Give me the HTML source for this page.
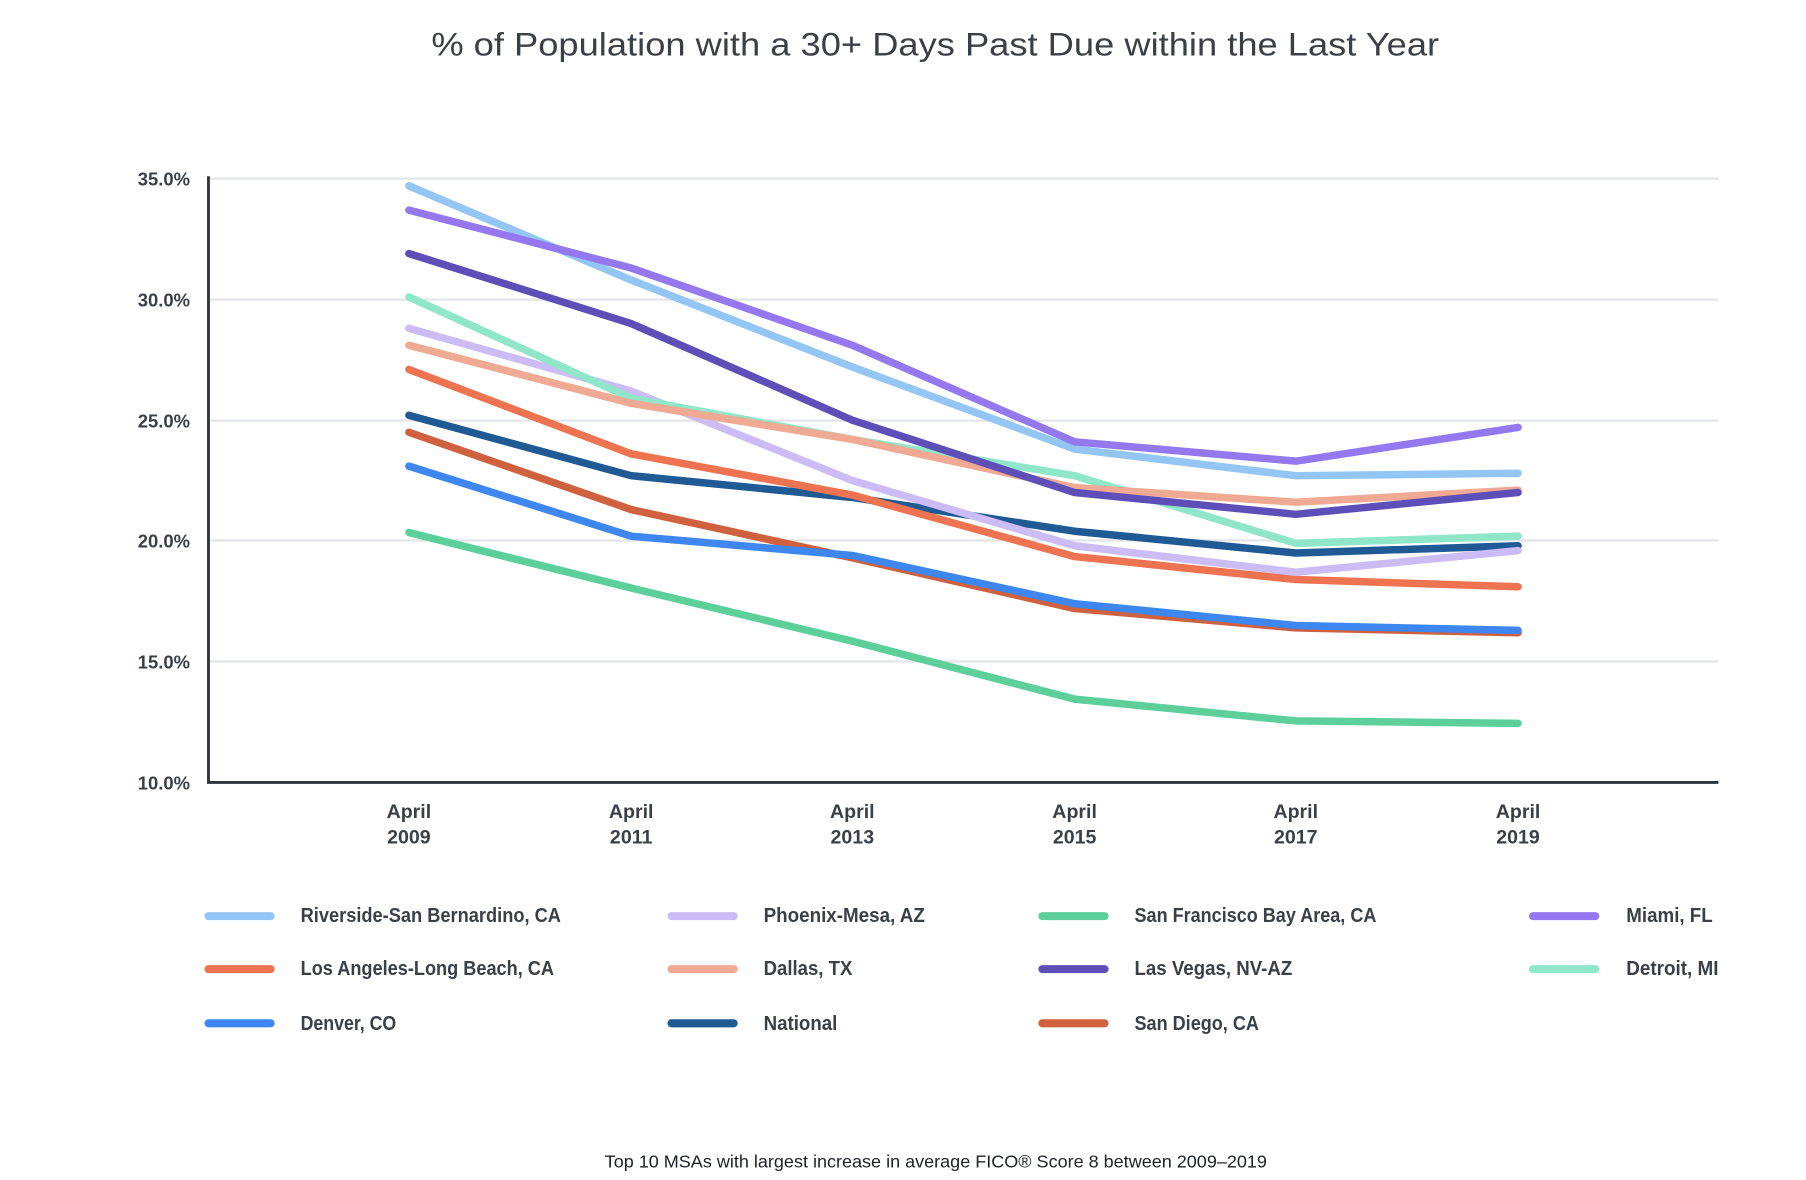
<!DOCTYPE html>
<html><head><meta charset="utf-8"><style>
html,body{margin:0;padding:0;background:#fff;}
svg{display:block;}
text{font-family:"Liberation Sans Narrow","Liberation Sans",sans-serif;fill:#3a3f48;}
</style></head><body>
<svg width="1806" height="1180" viewBox="0 0 1568 1024" preserveAspectRatio="none">
<rect width="1568" height="1024" fill="#fff"/>
<text x="812" y="48" text-anchor="middle" font-size="28" textLength="875" lengthAdjust="spacingAndGlyphs" style="font-family:'Liberation Sans',sans-serif;fill:#3b3f46">% of Population with a 30+ Days Past Due within the Last Year</text>
<g stroke="#e3e5e8" stroke-width="2">
<line x1="181" x2="1492" y1="155" y2="155"/><line x1="181" x2="1492" y1="260" y2="260"/><line x1="181" x2="1492" y1="365" y2="365"/><line x1="181" x2="1492" y1="469" y2="469"/><line x1="181" x2="1492" y1="574" y2="574"/>
</g>
<line x1="181" x2="181" y1="153" y2="680" stroke="#2f3540" stroke-width="2.5"/>
<line x1="180" x2="1492" y1="679" y2="679" stroke="#2f3540" stroke-width="2.5"/>
<g font-size="16" text-anchor="end" font-weight="bold" style="font-family:'Liberation Sans',sans-serif">
<text x="165" y="161">35.0%</text><text x="165" y="266">30.0%</text><text x="165" y="371">25.0%</text><text x="165" y="475">20.0%</text><text x="165" y="580">15.0%</text><text x="165" y="685">10.0%</text>
</g>
<g font-size="17" text-anchor="middle" font-weight="bold">
<text x="355" y="710">April</text><text x="355" y="732">2009</text>
<text x="548" y="710">April</text><text x="548" y="732">2011</text>
<text x="740" y="710">April</text><text x="740" y="732">2013</text>
<text x="933" y="710">April</text><text x="933" y="732">2015</text>
<text x="1125" y="710">April</text><text x="1125" y="732">2017</text>
<text x="1318" y="710">April</text><text x="1318" y="732">2019</text>
</g>
<g fill="none" stroke-width="6.5" stroke-linecap="round" stroke-linejoin="round">
<polyline stroke="#5ccf9a" points="355,462.1 548,510.3 740,556.4 933,606.7 1125,625.6 1318,627.7"/>
<polyline stroke="#d0613f" points="355,375.1 548,442.2 740,484.1 933,528.1 1125,544.9 1318,549.1"/>
<polyline stroke="#3e86f0" points="355,404.5 548,465.3 740,482.0 933,523.9 1125,542.8 1318,547.0"/>
<polyline stroke="#1f5a94" points="355,360.4 548,412.8 740,431.7 933,461.0 1125,479.9 1318,473.6"/>
<polyline stroke="#ee7350" points="355,320.6 548,393.9 740,429.6 933,483.0 1125,502.9 1318,509.2"/>
<polyline stroke="#cbbcf5" points="355,284.9 548,339.4 740,417.0 933,473.6 1125,496.6 1318,477.8"/>
<polyline stroke="#8fe6c8" points="355,257.7 548,345.7 740,381.3 933,412.8 1125,471.5 1318,465.2"/>
<polyline stroke="#f0a992" points="355,299.6 548,350.0 740,381.3 933,423.2 1125,435.8 1318,425.3"/>
<polyline stroke="#5e4fb8" points="355,220.0 548,280.8 740,364.6 933,427.4 1125,446.3 1318,427.4"/>
<polyline stroke="#93c5f5" points="355,161.3 548,243.0 740,318.5 933,389.7 1125,412.8 1318,410.7"/>
<polyline stroke="#9478f0" points="355,182.3 548,232.6 740,299.6 933,383.4 1125,400.2 1318,370.9"/>
</g>
<g stroke-width="7" stroke-linecap="round">
<line x1="181" x2="235" y1="795" y2="795" stroke="#93c5f5"/>
<line x1="181" x2="235" y1="841" y2="841" stroke="#ee7350"/>
<line x1="181" x2="235" y1="888" y2="888" stroke="#3e86f0"/>
<line x1="583" x2="637" y1="795" y2="795" stroke="#cbbcf5"/>
<line x1="583" x2="637" y1="841" y2="841" stroke="#f0a992"/>
<line x1="583" x2="637" y1="888" y2="888" stroke="#1f5a94"/>
<line x1="905" x2="959" y1="795" y2="795" stroke="#5ccf9a"/>
<line x1="905" x2="959" y1="841" y2="841" stroke="#5e4fb8"/>
<line x1="905" x2="959" y1="888" y2="888" stroke="#d0613f"/>
<line x1="1331" x2="1385" y1="795" y2="795" stroke="#9478f0"/>
<line x1="1331" x2="1385" y1="841" y2="841" stroke="#8fe6c8"/>
</g>
<g font-size="18" font-weight="bold">
<text x="261" y="800" textLength="226" lengthAdjust="spacingAndGlyphs">Riverside-San Bernardino, CA</text>
<text x="261" y="846" textLength="220" lengthAdjust="spacingAndGlyphs">Los Angeles-Long Beach, CA</text>
<text x="261" y="894" textLength="83" lengthAdjust="spacingAndGlyphs">Denver, CO</text>
<text x="663" y="800" textLength="140" lengthAdjust="spacingAndGlyphs">Phoenix-Mesa, AZ</text>
<text x="663" y="846" textLength="77" lengthAdjust="spacingAndGlyphs">Dallas, TX</text>
<text x="663" y="894" textLength="64" lengthAdjust="spacingAndGlyphs">National</text>
<text x="985" y="800" textLength="210" lengthAdjust="spacingAndGlyphs">San Francisco Bay Area, CA</text>
<text x="985" y="846" textLength="137" lengthAdjust="spacingAndGlyphs">Las Vegas, NV-AZ</text>
<text x="985" y="894" textLength="108" lengthAdjust="spacingAndGlyphs">San Diego, CA</text>
<text x="1412" y="800" textLength="75" lengthAdjust="spacingAndGlyphs">Miami, FL</text>
<text x="1412" y="846" textLength="80" lengthAdjust="spacingAndGlyphs">Detroit, MI</text>
</g>
<text x="525" y="1013" font-size="15" textLength="575" lengthAdjust="spacingAndGlyphs" style="fill:#1e2128">Top 10 MSAs with largest increase in average FICO® Score 8 between 2009–2019</text>
</svg>
</body></html>
